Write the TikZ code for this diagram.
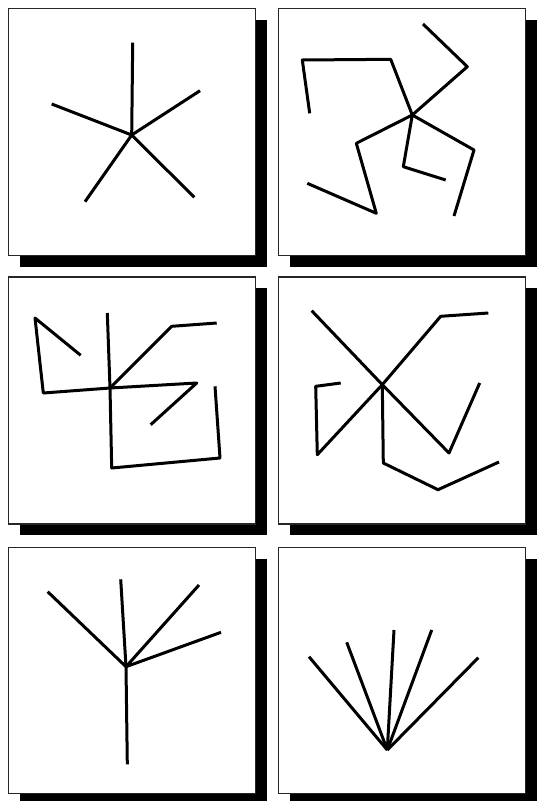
\documentclass[tikz,border=0pt]{standalone}
\begin{document}
\begin{tikzpicture}[x=1pt,y=-1pt,
  shadowbox/.style={fill=black},
  panelbox/.style={draw=black!85,line width=1.6pt,fill=white},
  stroke/.style={draw=black,line width=3pt,line join=round,line cap=butt}]
\useasboundingbox (0,0) rectangle (539,801);
% panels: shadows then boxes
\foreach \x/\y/\h in {8.5/8.5/247, 278.5/8.5/247, 8.5/277/247, 278.5/277/247, 8.5/547.5/246, 278.5/547.5/246}{
  \fill[shadowbox] (\x+11,\y+11) rectangle (\x+247+11,\y+\h+11);
  \path[panelbox] (\x,\y) rectangle (\x+247,\y+\h);
}
% panel 1: star
\coordinate (c1) at (131.7,135);
\foreach \p in {(132.7,42.7),(200,90.7),(51.7,104),(85,201.7),(194.3,197.3)}
  \draw[stroke] (c1) -- \p;
% panel 2: pinwheel
\coordinate (c2) at (412.3,115);
\draw[stroke] (c2) -- (390.7,59.3) -- (302.3,60) -- (309.7,113.3);
\draw[stroke] (c2) -- (467.3,66.7) -- (423,24);
\draw[stroke] (c2) -- (474,150) -- (454,216);
\draw[stroke] (c2) -- (403.3,166.7) -- (445.7,180);
\draw[stroke] (c2) -- (356.3,143.3) -- (376.3,213.3) -- (307.3,183.3);
% panel 3
\coordinate (c3) at (110,388);
\draw[stroke] (c3) -- (107.3,313);
\draw[stroke] (c3) -- (171.7,326.3) -- (216.7,323);
\draw[stroke] (c3) -- (196.7,383) -- (150.7,424.7);
\draw[stroke] (c3) -- (111.7,468) -- (220,458) -- (215,386.3);
\draw[stroke] (c3) -- (43.3,393) -- (35,318) -- (80.7,355.3);
% panel 4
\coordinate (c4) at (382.3,384.7);
\draw[stroke] (c4) -- (311.7,310.7);
\draw[stroke] (c4) -- (440.7,316.3) -- (488.3,313);
\draw[stroke] (c4) -- (449,453) -- (479.7,383);
\draw[stroke] (c4) -- (383.3,463) -- (438,489.7) -- (499,462);
\draw[stroke] (c4) -- (317.3,454.7) -- (315.7,386.3) -- (340.7,383);
% panel 5
\coordinate (c5) at (126,666.7);
\foreach \p in {(120.7,579.3),(47.7,591.7),(199,585),(221,632.3),(127.3,764.3)}
  \draw[stroke] (c5) -- \p;
% panel 6
\coordinate (c6) at (387.3,750);
\foreach \p in {(309,656.7),(346.7,642.3),(394,630),(431.7,630),(478.3,657.7)}
  \draw[stroke] (c6) -- \p;
\end{tikzpicture}
\end{document}
